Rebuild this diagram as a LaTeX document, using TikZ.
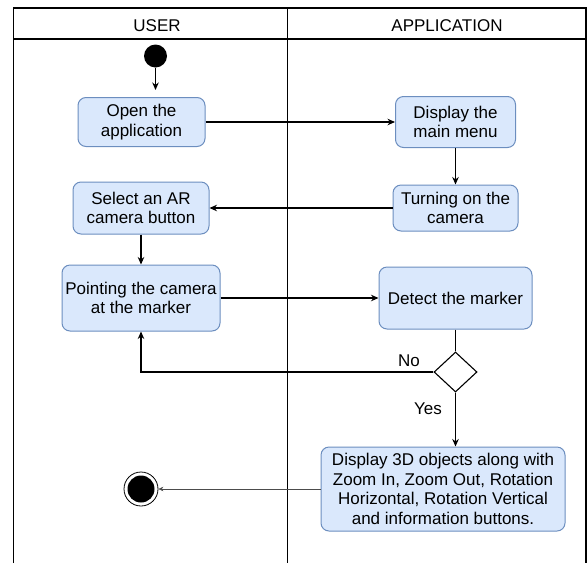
\documentclass[tikz,border=0pt]{standalone}
\usepackage{fontspec}
\setmainfont{Liberation Sans}
\usetikzlibrary{shapes.geometric,arrows.meta}

\definecolor{actfill}{HTML}{DAE8FC}
\definecolor{actline}{HTML}{6C8EBF}

\tikzset{
  txt/.style={font=\fontsize{17}{19.7}\selectfont},
  action/.style={txt, draw=actline, fill=actfill, rounded corners=8pt,
    line width=1pt, align=center, inner sep=0pt},
  choice/.style={diamond, draw, fill=white, inner sep=0pt,
    minimum width=43pt, minimum height=40pt},
  startdot/.style={circle, fill=black, inner sep=0pt, minimum size=23pt},
  stopdot/.style={circle, draw, line width=0.8pt, inner sep=0pt, minimum size=34pt,
    path picture={\fill (path picture bounding box.center) circle (13.5pt);}},
  lbl/.style={txt, inner sep=0pt}
}

\begin{document}
\begin{tikzpicture}[>={Stealth[length=7.5pt,width=6.5pt]}, x=1pt, y=-1pt, line width=1.1pt]
  \useasboundingbox (0,0) rectangle (588,563);

  % the two lanes
  \draw (13.5,563) -- (13.5,8) -- (586,8) -- (586,563);
  \draw (13.5,39) -- (586,39);
  \draw (287.5,8) -- (287.5,563);
  \node[lbl] (user) at (157,25.5) {USER};
  \node[lbl] (app) at (447,25.5) {APPLICATION};

  % user side
  \node[startdot] (start) at (155.5,56) {};
  \coordinate (startend) at (155.5,90);
  \node[action, minimum width=127pt, minimum height=49pt] (open) at (141.5,122)
    {Open the\\application};
  \node[action, minimum width=136pt, minimum height=52pt] (select) at (141,208)
    {Select an AR\\camera button};
  \node[action, minimum width=158pt, minimum height=66pt] (point) at (141,298)
    {Pointing the camera\\at the marker};
  \node[stopdot] (stop) at (141,489) {};

  % application side
  \node[action, minimum width=120pt, minimum height=51pt] (menu) at (455.5,122)
    {Display the\\main menu};
  \node[action, minimum width=125pt, minimum height=46pt] (camon) at (455.5,208)
    {Turning on the\\camera};
  \node[action, minimum width=153pt, minimum height=62pt] (detect) at (455.5,298)
    {Detect the marker};
  \node[choice] (dec) at (455.5,372) {};
  \node[action, minimum width=244pt, minimum height=84pt] (show) at (443,489)
    {Display 3D objects along with\\Zoom In, Zoom Out, Rotation\\Horizontal, Rotation Vertical\\and information buttons.};

  % flow
  \draw[->] (start) -- (startend);
  \draw[->] (open) -- (menu);
  \draw[->] (menu) -- (camon);
  \draw[->] (camon) -- (select);
  \draw[->] (select) -- (point);
  \draw[->] (point) -- (detect);
  \draw (detect) -- (dec);
  \draw[->] (dec.west) -| (point.south);
  \node[lbl] (no) at (409,361) {No};
  \draw[->] (dec.south) -- (dec.south |- show.north);
  \node[lbl] (yes) at (428,409) {Yes};
  \draw[-{Stealth[length=5pt,width=4.5pt]}, line width=0.6pt, black!70] (show) -- (stop);
\end{tikzpicture}
\end{document}
